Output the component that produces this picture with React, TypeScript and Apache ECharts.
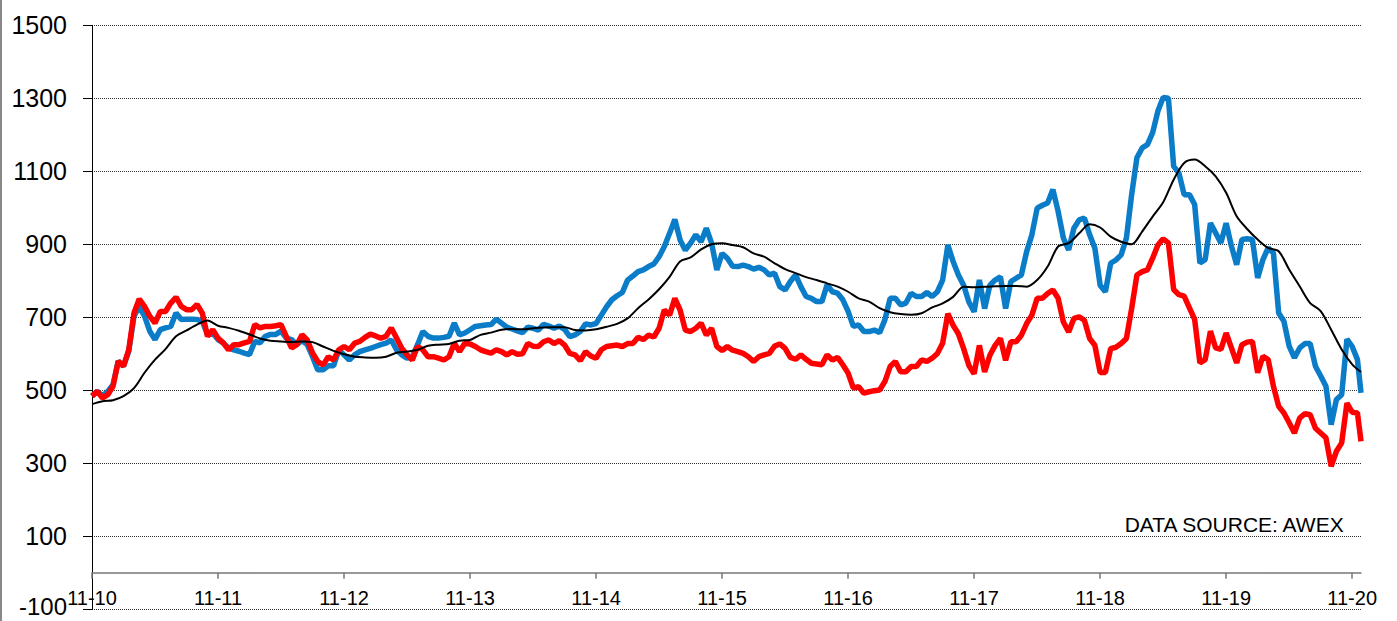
import React, { useEffect, useRef } from 'react';
import * as echarts from 'echarts';

// x = years since Nov 2010; blue/red sampled every half month, black monthly
const yearLabels = ['11-10', '11-11', '11-12', '11-13', '11-14', '11-15', '11-16', '11-17', '11-18', '11-19', '11-20'];
const yearTicks = [0, 1, 2, 3, 4, 5, 6, 7, 8, 9, 10];
const lastDate = 10.07;

const blue = [
  485, 497, 485, 497, 515, 580, 566, 607, 703, 730, 703, 662, 639, 666, 671, 675, 712, 694, 695, 695,
  694, 689, 653, 657, 639, 630, 616, 611, 607, 602, 598, 634, 630, 648, 653, 653, 662, 643, 639, 625,
  636, 625, 592, 556, 556, 567, 567, 611, 597, 583, 597, 606, 611, 615, 620, 625, 629, 638, 611, 597,
  588, 592, 625, 661, 648, 643, 643, 645, 648, 684, 652, 657, 666, 675, 677, 679, 680, 695, 684, 673,
  668, 663, 658, 673, 670, 665, 681, 676, 670, 676, 667, 647, 652, 661, 682, 679, 683, 706, 729, 748,
  759, 768, 802, 813, 825, 830, 839, 846, 866, 894, 930, 968, 912, 884, 903, 926, 907, 944, 903, 830,
  875, 862, 840, 839, 843, 839, 832, 837, 830, 816, 821, 784, 775, 798, 816, 784, 757, 752, 743, 743,
  789, 770, 766, 748, 716, 675, 679, 661, 661, 665, 658, 693, 752, 752, 734, 739, 766, 757, 757, 768,
  757, 770, 802, 898, 853, 816, 788, 742, 715, 802, 724, 788, 802, 811, 724, 798, 807, 816, 880, 926,
  999, 1007, 1013, 1050, 990, 917, 885, 944, 967, 972, 926, 889, 788, 770, 848, 857, 871, 917, 1036, 1137,
  1164, 1173, 1206, 1265, 1302, 1300, 1114, 1095, 1036, 1036, 1009, 849, 858, 958, 931, 904, 958, 895, 844, 913,
  915, 913, 808, 858, 890, 876, 712, 689, 621, 589, 616, 628, 628, 566, 539, 511, 406, 475, 488, 640,
  620, 584,
];
const blueLast = 493;

const red = [
  484, 497, 479, 488, 511, 580, 566, 611, 712, 750, 730, 703, 684, 716, 716, 739, 755, 730, 721, 721,
  735, 712, 648, 666, 643, 630, 611, 625, 625, 630, 634, 680, 671, 675, 675, 677, 680, 648, 616, 625,
  652, 638, 602, 579, 569, 592, 583, 611, 620, 611, 629, 634, 645, 654, 649, 643, 648, 671, 643, 615,
  597, 583, 620, 611, 592, 592, 588, 583, 592, 629, 606, 629, 627, 620, 611, 606, 602, 611, 606, 597,
  606, 599, 600, 628, 621, 620, 633, 638, 628, 636, 624, 601, 597, 581, 606, 594, 588, 611, 620, 622,
  624, 620, 628, 628, 645, 639, 651, 646, 670, 720, 706, 752, 720, 665, 661, 670, 684, 651, 670, 620,
  609, 620, 610, 606, 601, 592, 579, 592, 597, 601, 621, 627, 615, 590, 585, 597, 585, 574, 572, 570,
  597, 583, 590, 570, 547, 506, 510, 492, 496, 499, 501, 524, 565, 579, 551, 551, 565, 565, 583, 579,
  588, 601, 629, 710, 678, 655, 614, 568, 545, 623, 550, 596, 623, 642, 582, 633, 633, 651, 683, 706,
  752, 752, 765, 775, 752, 687, 660, 697, 701, 692, 642, 623, 549, 549, 614, 618, 628, 642, 724, 816,
  825, 830, 862, 898, 915, 904, 776, 762, 758, 726, 694, 575, 584, 662, 616, 612, 657, 616, 575, 625,
  632, 634, 548, 593, 584, 511, 456, 438, 411, 383, 424, 436, 433, 396, 383, 370, 292, 333, 356, 465,
  440, 438,
];
const redLast = 360;

const black = [
  462, 470, 473, 484, 506, 548, 584, 613, 648, 664, 680, 691, 677, 671, 663, 653, 642, 636, 634, 632,
  634, 632, 620, 608, 599, 592, 590, 589, 592, 603, 606, 611, 622, 625, 627, 636, 638, 652, 658, 666,
  668, 667, 670, 672, 673, 673, 665, 664, 667, 674, 682, 697, 725, 749, 777, 811, 853, 864, 886, 900,
  903, 898, 892, 875, 866, 848, 832, 821, 810, 802, 793, 784, 770, 752, 743, 725, 714, 709, 707, 711,
  727, 738, 756, 784, 782, 784, 785, 786, 786, 784, 802, 839, 894, 903, 930, 955, 946, 921, 907, 900,
  935, 976, 1015, 1077, 1123, 1132, 1114, 1086, 1041, 977, 942, 913, 890, 881, 831, 785, 739, 717, 666, 612,
  571,
];
const blackLast = 550;

const yMin = -100;
const yMax = 1500;
const yStep = 200;

const halfMonth = 1 / 24;
const month = 1 / 12;

export default function App() {
  const ref = useRef<HTMLDivElement>(null);

  useEffect(() => {
    document.body.style.margin = '0';
    if (!ref.current) return;
    const chart = echarts.init(ref.current, null, { renderer: 'svg' });

    const blueData = blue.map((v, i) => [i * halfMonth, v]).concat([[lastDate, blueLast]]);
    const redData = red.map((v, i) => [i * halfMonth, v]).concat([[lastDate, redLast]]);
    const blackData = black.map((v, i) => [i * month, v]).concat([[lastDate, blackLast]]);

    const font = '"Liberation Sans", Arial, sans-serif';

    chart.setOption({
      animation: false,
      backgroundColor: '#ffffff',
      grid: [
        { left: 92, right: 36, top: 25.3, bottom: 11.7, containLabel: false, outerBoundsMode: 'none' },
        // label band: bottom edge sits on the zero line
        { left: 92, right: 36, top: 25.3, bottom: 48.2, containLabel: false, outerBoundsMode: 'none' },
      ],
      xAxis: [
        {
          type: 'value',
          gridIndex: 0,
          min: 0,
          max: lastDate,
          interval: 1,
          axisLine: { onZero: true, lineStyle: { color: '#777777', width: 1.5 } },
          axisTick: { show: true, customValues: yearTicks, length: 6, lineStyle: { color: '#777777', width: 1.5 } },
          axisLabel: { show: false },
          splitLine: { show: false },
        },
        {
          type: 'value',
          gridIndex: 1,
          min: 0,
          max: lastDate,
          interval: 1,
          axisLine: { show: false, onZero: false },
          axisTick: { show: false },
          axisLabel: {
            customValues: yearTicks,
            formatter: (v: number) => yearLabels[Math.round(v)] ?? '',
            fontSize: 20,
            fontFamily: font,
            color: '#000',
            margin: 15,
          },
          splitLine: { show: false },
        },
      ],
      yAxis: [
        {
          type: 'value',
          gridIndex: 0,
          min: yMin,
          max: yMax,
          interval: yStep,
          axisLine: { show: true, onZero: false, lineStyle: { color: '#000', width: 1 } },
          axisTick: { show: true, length: 9, lineStyle: { color: '#000', width: 1 } },
          axisLabel: {
            fontSize: 25,
            lineHeight: 20,
            fontFamily: font,
            color: '#000',
            margin: 25,
            formatter: (v: number) => (v === yMin ? '{low|' + String(v) + '}' : String(v)),
            rich: {
              low: { fontSize: 24, fontFamily: font, color: '#000', lineHeight: 18, padding: [0, 0, 6, 0] },
            },
          },
          splitLine: { show: true, lineStyle: { color: '#333', width: 1, type: [1, 1] } },
        },
        {
          type: 'value',
          gridIndex: 1,
          show: false,
        },
      ],
      series: [
        {
          type: 'line',
          data: blueData,
          symbol: 'none',
          lineStyle: { color: '#0A7CC8', width: 5.5 },
          z: 2,
        },
        {
          type: 'line',
          data: redData,
          symbol: 'none',
          lineStyle: { color: '#FF0000', width: 5.5 },
          z: 3,
        },
        {
          type: 'line',
          data: blackData,
          symbol: 'none',
          smooth: 0.3,
          lineStyle: { color: '#000000', width: 2 },
          z: 4,
        },
      ],
      graphic: [
        { type: 'rect', left: 0, top: 0, shape: { width: 2, height: 621 }, style: { fill: '#888888' } },
        {
          type: 'text',
          right: 51,
          top: 514,
          style: { text: 'DATA SOURCE: AWEX', fontSize: 21, fontFamily: font, fill: '#000' },
        },
      ],
    });

    return () => chart.dispose();
  }, []);

  return <div ref={ref} style={{ width: 1397, height: 621, position: 'absolute', left: 0, top: 0 }} />;
}
